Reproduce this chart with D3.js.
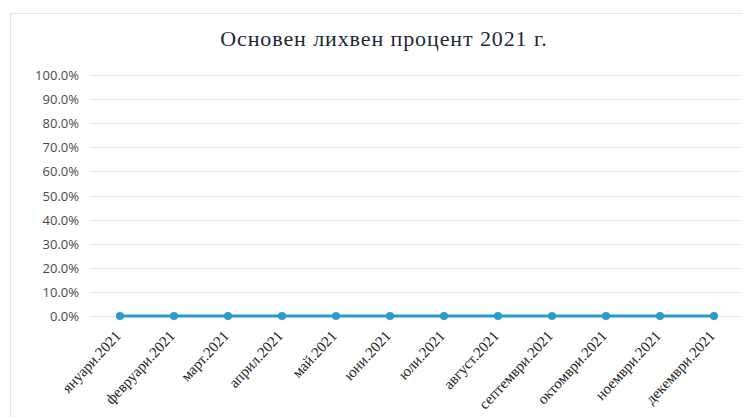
<!DOCTYPE html>
<html>
<head>
<meta charset="utf-8">
<script src="https://cdn.jsdelivr.net/npm/d3@7/dist/d3.min.js"></script>
<style>
  html, body { margin: 0; padding: 0; background: #fff; }
  svg { display: block; }
</style>
</head>
<body>
<svg id="chart" width="743" height="417"></svg>
<script>
// Base interest rate by month, 2021 (fractions, shown as percent)
const months = ["януари.2021", "февруари.2021", "март.2021", "април.2021", "май.2021", "юни.2021",
                "юли.2021", "август.2021", "септември.2021", "октомври.2021", "ноември.2021", "декември.2021"];
const rates = [0.0, 0.0, 0.0, 0.0, 0.0, 0.0, 0.0, 0.0, 0.0, 0.0, 0.0, 0.0];
const yTicks = [0, 0.1, 0.2, 0.3, 0.4, 0.5, 0.6, 0.7, 0.8, 0.9, 1.0];
const title = "Основен лихвен процент 2021 г.";

const svg = d3.select("#chart");
const W = 743, H = 417;
const plot = { left: 90, right: 741, top: 75, bottom: 316 };

// Chart frame
svg.append("rect")
  .attr("x", 10.5).attr("y", 13.5)
  .attr("width", W + 20).attr("height", H + 20)
  .attr("fill", "#fff").attr("stroke", "#e6e6e6").attr("stroke-width", 1);

svg.append("text")
  .attr("x", 384).attr("y", 46)
  .attr("text-anchor", "middle")
  .attr("font-family", "'Liberation Serif', 'DejaVu Serif', serif")
  .attr("font-size", 22)
  .attr("letter-spacing", 0.9)
  .attr("fill", "#1d2a33")
  .text(title);

const x = d3.scaleBand().domain(months).range([plot.left + 3, plot.right]);
const y = d3.scaleLinear().domain([0, 1]).range([plot.bottom, plot.top]);

// Horizontal gridlines
svg.append("g").selectAll("line").data(yTicks).join("line")
  .attr("x1", plot.left).attr("x2", plot.right)
  .attr("y1", d => Math.round(y(d)) + 0.5).attr("y2", d => Math.round(y(d)) + 0.5)
  .attr("stroke", "#e4e4e4").attr("stroke-width", 1);

// Y axis labels
const yAxis = svg.append("g")
  .attr("transform", `translate(79,0)`)
  .call(d3.axisLeft(y).tickValues(yTicks).tickFormat(d3.format(".1%")).tickSize(0).tickPadding(0));
yAxis.select(".domain").remove();
yAxis.selectAll("text")
  .attr("font-family", "'Open Sans', 'DejaVu Sans', sans-serif")
  .attr("font-size", 13)
  .attr("fill", "#4a4a4a")
  .attr("dy", "0.35em");

// X axis labels, rotated
const xAxis = svg.append("g")
  .attr("transform", `translate(0,${plot.bottom})`)
  .call(d3.axisBottom(x).tickSize(0).tickPadding(0));
xAxis.select(".domain").remove();
xAxis.selectAll("text")
  .attr("font-family", "'Liberation Serif', 'DejaVu Serif', serif")
  .attr("font-size", 15)
  .attr("fill", "#222")
  .attr("text-anchor", "end")
  .attr("dy", "0.35em")
  .attr("transform", "translate(-2,17) rotate(-47)");

// Series line and markers
const cx = d => x(d) + x.bandwidth() / 2;
const color = "#2b9bcb";
svg.append("path")
  .datum(months.map((m, i) => [cx(m), y(rates[i])]))
  .attr("d", d3.line())
  .attr("fill", "none").attr("stroke", color).attr("stroke-width", 3);

svg.append("g").selectAll("circle").data(months).join("circle")
  .attr("cx", d => cx(d))
  .attr("cy", (d, i) => y(rates[i]))
  .attr("r", 4)
  .attr("fill", color);
</script>
</body>
</html>
